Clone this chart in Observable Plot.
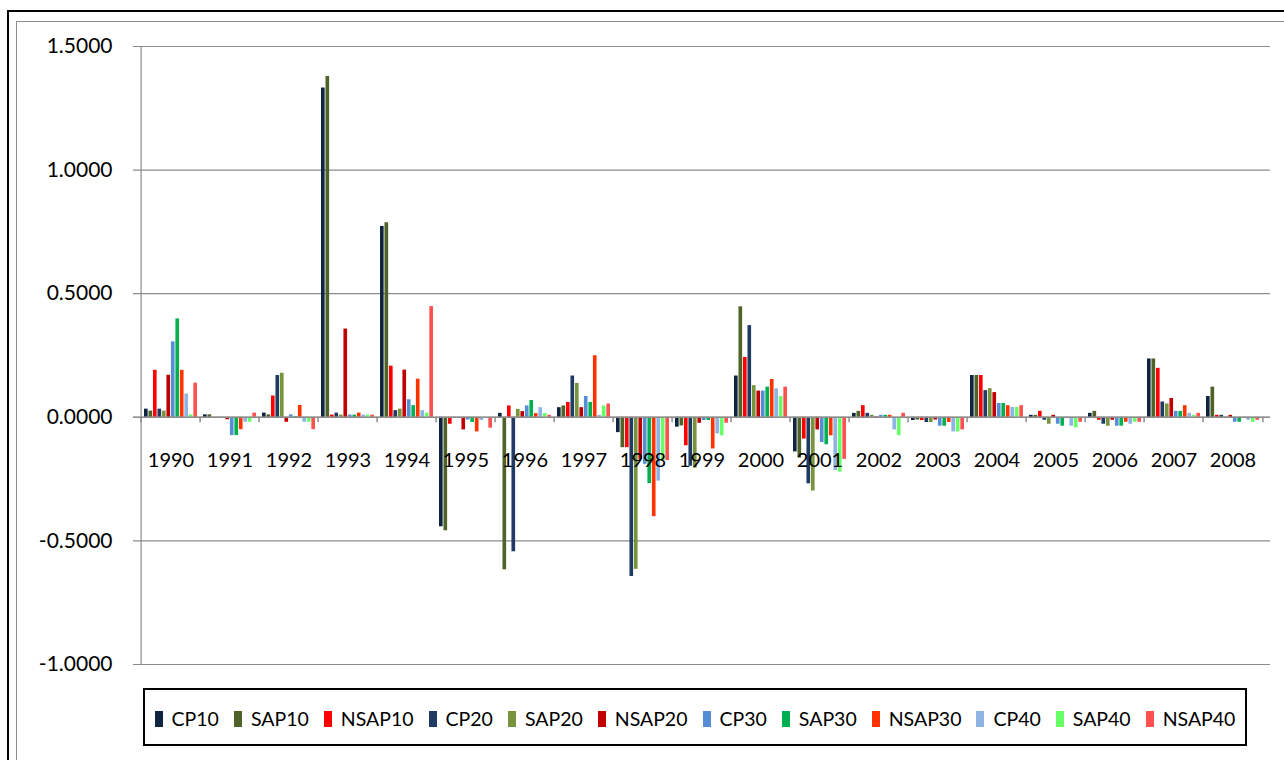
<!DOCTYPE html>
<html>
<head>
<meta charset="utf-8">
<script src="https://cdn.jsdelivr.net/npm/d3@7"></script>
<script src="https://cdn.jsdelivr.net/npm/@observablehq/plot@0.6"></script>
<style>
  body { margin: 0; background: #fff; font-family: Lato, "Open Sans", sans-serif; }
  #wrap { position: relative; width: 1284px; height: 760px; overflow: hidden; background: #fff; }
  #outer { position: absolute; left: 7px; top: 10px; width: 1320px; height: 800px; border: 2px solid #000; }
  #inner { position: absolute; left: 16px; top: 21px; width: 1320px; height: 800px; border: 1px solid #8c8c8c; }
  #chart { position: absolute; left: 0; top: 0; }
  #legend { position: absolute; left: 143px; top: 688px; width: 1104px; height: 58px; box-sizing: border-box;
            border: 2px solid #000; display: flex; align-items: center; justify-content: center; background: #fff; padding-top: 3px; }
  .item { display: flex; align-items: center; margin: 0 7.5px; font-size: 19.5px; color: #000; }
  .sw { width: 8px; height: 16px; margin-right: 9px; }
</style>
</head>
<body>
<div id="wrap">
  <div id="outer"></div>
  <div id="inner"></div>
  <div id="chart"></div>
  <div id="legend"></div>
</div>
<script>
const years = [1990,1991,1992,1993,1994,1995,1996,1997,1998,1999,2000,2001,2002,2003,2004,2005,2006,2007,2008];
const seriesNames = ["CP10","SAP10","NSAP10","CP20","SAP20","NSAP20","CP30","SAP30","NSAP30","CP40","SAP40","NSAP40"];
const seriesColors = ["#0f243e","#4f6228","#ff0000","#1f3b64","#77933c","#c00000","#558ed5","#00b050","#ff3300","#8eb4e3","#66ff66","#ff5050"];
const yTicks = [-1, -0.5, 0, 0.5, 1, 1.5];

const CP10   = [0.033, 0.010, 0.017, 1.332, 0.772, -0.443, 0.016, 0.039, -0.062, -0.040, 0.167, -0.140, 0.016, -0.013, 0.169, 0.008, 0.016, 0.236, 0.084];
const SAP10  = [0.025, 0.010, 0.010, 1.379, 0.787, -0.459, -0.617, 0.046, -0.123, -0.035, 0.447, -0.165, 0.024, -0.011, 0.169, 0.008, 0.024, 0.236, 0.122];
const NSAP10 = [0.190, -0.003, 0.086, 0.009, 0.207, -0.028, 0.046, 0.060, -0.123, -0.115, 0.242, -0.088, 0.047, -0.013, 0.169, 0.024, -0.012, 0.198, 0.008];
const CP20   = [0.033, -0.004, 0.169, 0.017, 0.027, -0.003, -0.544, 0.167, -0.644, -0.198, 0.371, -0.269, 0.016, -0.021, 0.108, -0.012, -0.028, 0.062, 0.008];
const SAP20  = [0.025, -0.003, 0.178, 0.009, 0.033, -0.002, 0.032, 0.137, -0.615, -0.206, 0.128, -0.298, 0.008, -0.021, 0.116, -0.028, -0.036, 0.054, 0.002];
const NSAP20 = [0.170, -0.010, -0.020, 0.357, 0.191, -0.051, 0.023, 0.039, -0.170, -0.024, 0.106, -0.051, 0.002, -0.011, 0.100, 0.008, -0.012, 0.076, 0.008];
const CP30   = [0.305, -0.074, 0.010, 0.009, 0.071, -0.011, 0.046, 0.084, -0.190, -0.013, 0.106, -0.102, 0.008, -0.036, 0.056, -0.028, -0.036, 0.024, -0.020];
const SAP30  = [0.398, -0.074, 0.003, 0.009, 0.047, -0.021, 0.068, 0.060, -0.268, -0.013, 0.122, -0.111, 0.008, -0.036, 0.056, -0.036, -0.036, 0.024, -0.020];
const NSAP30 = [0.190, -0.050, 0.048, 0.017, 0.154, -0.059, 0.015, 0.249, -0.402, -0.128, 0.153, -0.075, 0.008, -0.021, 0.047, -0.004, -0.020, 0.047, -0.002];
const CP40   = [0.094, -0.020, -0.020, 0.009, 0.027, -0.013, 0.039, 0.008, -0.258, -0.067, 0.115, -0.215, -0.051, -0.059, 0.040, -0.036, -0.028, 0.016, -0.012];
const SAP40  = [0.010, -0.020, -0.020, 0.009, 0.017, -0.002, 0.015, 0.046, -0.178, -0.075, 0.084, -0.222, -0.074, -0.059, 0.040, -0.043, -0.020, 0.008, -0.020];
const NSAP40 = [0.138, 0.017, -0.050, 0.009, 0.448, -0.044, 0.008, 0.054, -0.175, -0.024, 0.122, -0.170, 0.016, -0.051, 0.047, -0.020, -0.020, 0.016, -0.012];

const seriesValues = [CP10, SAP10, NSAP10, CP20, SAP20, NSAP20, CP30, SAP30, NSAP30, CP40, SAP40, NSAP40];
const rows = [];
seriesNames.forEach((s, i) => years.forEach((y, j) => rows.push({series: s, year: y, value: seriesValues[i][j]})));

const W = 1284, H = 680, ML = 133, MR = 14, MT = 46, MB = 16;
const bw = (W - ML - MR) / years.length;
const pad = 3;
const barW = (bw - 2 * pad) / seriesNames.length;
const grey = "#8c8c8c";

const barMarks = seriesNames.map((s, i) =>
  Plot.barY(rows.filter(r => r.series === s), {
    x: "year", y: "value", fill: seriesColors[i],
    insetLeft: pad + i * barW, insetRight: bw - pad - (i + 1) * barW
  })
);

const chart = Plot.plot({
  width: W, height: H,
  marginLeft: ML, marginRight: MR, marginTop: MT, marginBottom: MB,
  style: {fontFamily: "Lato, 'Open Sans', sans-serif", color: "#000", background: "transparent"},
  x: {type: "band", domain: years, padding: 0, axis: null},
  y: {domain: [-1, 1.5], axis: null},
  marks: [
    Plot.ruleY(yTicks, {stroke: grey, strokeWidth: 1.2}),
    Plot.ruleX([years[0]], {x: d => d, y1: -1, y2: 1.5, dx: -bw / 2, stroke: grey, strokeWidth: 1.2}),
    ...barMarks,
    Plot.ruleY([0], {stroke: grey, strokeWidth: 1.5}),
    Plot.ruleX(years, {x: d => d, y1: 0, y2: -0.022, dx: -bw / 2, stroke: grey, strokeWidth: 1.5}),
    Plot.ruleX([years[years.length - 1]], {x: d => d, y1: 0, y2: -0.022, dx: bw / 2, stroke: grey, strokeWidth: 1.5}),
    Plot.text(years, {x: d => d, y: 0, dy: 43, text: d => String(d), fontSize: 20, fill: "#000"}),
    Plot.axisY({ticks: yTicks, tickFormat: d => d.toFixed(4), tickSize: 0, tickPadding: 21, fontSize: 21, fill: "#000", label: null})
  ]
});
document.getElementById("chart").appendChild(chart);

const legend = document.getElementById("legend");
seriesNames.forEach((s, i) => {
  const item = document.createElement("div");
  item.className = "item";
  const sw = document.createElement("span");
  sw.className = "sw";
  sw.style.background = seriesColors[i];
  const lab = document.createElement("span");
  lab.textContent = s;
  item.appendChild(sw);
  item.appendChild(lab);
  legend.appendChild(item);
});
</script>
</body>
</html>
